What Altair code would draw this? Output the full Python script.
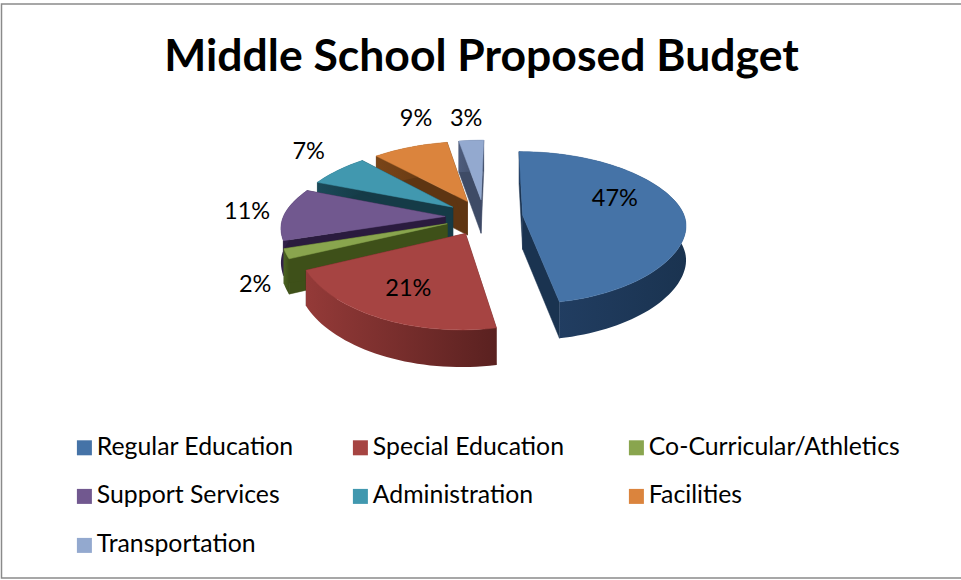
import math
import altair as alt
import pandas as pd

# Budget shares, clockwise from twelve o'clock
CATEGORIES = ["Regular Education", "Special Education", "Co-Curricular/Athletics",
              "Support Services", "Administration", "Facilities", "Transportation"]
SHARES = [47, 21, 2, 11, 7, 9, 3]

TOP_COLORS = ["#4573A7", "#A64442", "#89A54E", "#71588F", "#4198AF", "#DB843D", "#93A9CF"]
WALL_LIGHT = ["#234066", "#943A38", "#4B6322", "#33224A", "#1B4A59", "#7A4518", "#4D5C7C"]
WALL_DARK = ["#1A3350", "#5A2120", "#3E5019", "#2A1B3E", "#153B47", "#5E3512", "#3E4B66"]

# Data label placement relative to each slice: distance in radii, turn in degrees
LABEL_REACH = [0.638, 0.692, 1.27, 1.24, 1.41, 1.526, 1.44]
LABEL_TURN = [-15, -0.7, -12, 1, 4.6, 9.3, -0.5]

# Tilted-disc view of the pie; the rear converges harder than the front widens
CX, CY = 484, 217
RX, RY = 162, 74.6
VANISH_X = 499
PERSP_MEAN, PERSP_SPREAD, PERSP_Y = 0.145, 0.035, 0.163
EXPLODE = 0.24
DEPTH = 34
FONT = "Lato"


def project(u, v, drop=0.0):
    """Disc coordinates to page position; drop pushes the point down the pie's side."""
    k = PERSP_MEAN - PERSP_SPREAD * math.tanh(3 * v)
    x = VANISH_X + (CX + RX * u - VANISH_X) / (1 - k * v)
    y = CY + RY * v / (1 - PERSP_Y * v)
    return [x, y + drop * DEPTH / (1 - 0.07 * v)]


def polar(turn_deg, radius=1.0):
    a = math.radians(turn_deg)
    return radius * math.sin(a), -radius * math.cos(a)


def feature(points):
    ring = points + [points[0]]
    return {"type": "Feature", "properties": {},
            "geometry": {"type": "Polygon", "coordinates": [ring]}}


view = dict(type="identity", scale=1, translate=[0, 0])
layers = []

# The border runs along the left, top and bottom of the page
frame = {"type": "Feature", "properties": {},
         "geometry": {"type": "LineString",
                      "coordinates": [[961, 4], [1.5, 4], [1.5, 578], [961, 578]]}}
layers.append(alt.Chart(alt.Data(values=[frame])).mark_geoshape(
    filled=False, stroke="#8A8A8A", strokeWidth=1.5).project(**view))

# Walk the slices to find their angular extents
starts, running = [], 0.0
for share in SHARES:
    starts.append(running)
    running += share * 3.6

apexes = []
for i, share in enumerate(SHARES):
    mid = starts[i] + share * 1.8
    apexes.append(polar(mid, EXPLODE))

# Rear slices first so the nearer ones overlap them
for i in [6, 5, 4, 3, 2, 1, 0]:
    a0, sweep = starts[i], SHARES[i] * 3.6
    au, av = apexes[i]
    steps = max(6, int(sweep / 2))
    rim = [polar(a0 + sweep * k / steps) for k in range(steps + 1)]
    rim = [(au + u, av + v) for u, v in rim]

    top = [project(au, av)] + [project(u, v) for u, v in rim]
    side = [project(u, v) for u, v in rim] + [project(u, v, 1) for u, v in reversed(rim)]

    # Radial faces of the cut, then the curved outer face, then the top
    for (ru, rv) in (rim[0], rim[-1]):
        cut = [project(au, av), project(ru, rv), project(ru, rv, 1), project(au, av, 1)]
        layers.append(alt.Chart(alt.Data(values=[feature(cut)])).mark_geoshape(
            fill=WALL_DARK[i], stroke=WALL_DARK[i], strokeWidth=0.5).project(**view))

    shade = {"gradient": "linear", "x1": 0, "y1": 0, "x2": 1, "y2": 0,
             "stops": [{"offset": 0, "color": WALL_LIGHT[i]},
                       {"offset": 1, "color": WALL_DARK[i]}]}
    layers.append(alt.Chart(alt.Data(values=[feature(side)])).mark_geoshape(
        fill=shade, strokeWidth=0).project(**view))

    face = feature(top)
    face["properties"]["name"] = CATEGORIES[i]
    layers.append(alt.Chart(alt.Data(values=[face])).mark_geoshape(
        stroke=TOP_COLORS[i], strokeWidth=0.5).encode(
        color=alt.Color(
            "properties.name:N",
            scale=alt.Scale(domain=CATEGORIES, range=TOP_COLORS),
            legend=alt.Legend(
                title=None, orient="none", legendX=72, legendY=435, columns=3,
                direction="horizontal",
                gridAlign="all", columnPadding=0, rowPadding=23, symbolType="square",
                symbolSize=225, symbolStrokeWidth=0, symbolOpacity=1, labelFont=FONT,
                labelFontSize=24.8, labelColor="#000000", labelOffset=0,
                labelLimit=300, symbolOffset=0, padding=0,
            ),
        )
    ).project(**view))

# Percentage labels
label_rows = []
for i, share in enumerate(SHARES):
    mid = starts[i] + share * 1.8
    du, dv = polar(mid + LABEL_TURN[i], LABEL_REACH[i])
    x, y = project(apexes[i][0] + du, apexes[i][1] + dv)
    label_rows.append({"lon": x, "lat": y, "text": f"{share}%"})

layers.append(alt.Chart(pd.DataFrame(label_rows)).mark_text(
    font=FONT, fontSize=23.5, color="#000000", baseline="middle", align="center"
).encode(longitude="lon:Q", latitude="lat:Q", text="text:N").project(**view))

chart = alt.layer(*layers).properties(
    width=961, height=580, padding=0,
    autosize=alt.AutoSizeParams(type="none"),
    background="#FFFFFF",
    title=alt.TitleParams(
        "Middle School Proposed Budget", font=FONT, fontSize=44.5, fontWeight="bold",
        color="#000000", anchor="middle", orient="top", baseline="alphabetic",
        dx=1, dy=119,
    ),
).configure_view(stroke=None)

chart.save("out.html", embed_options={"renderer": "svg", "actions": False})
